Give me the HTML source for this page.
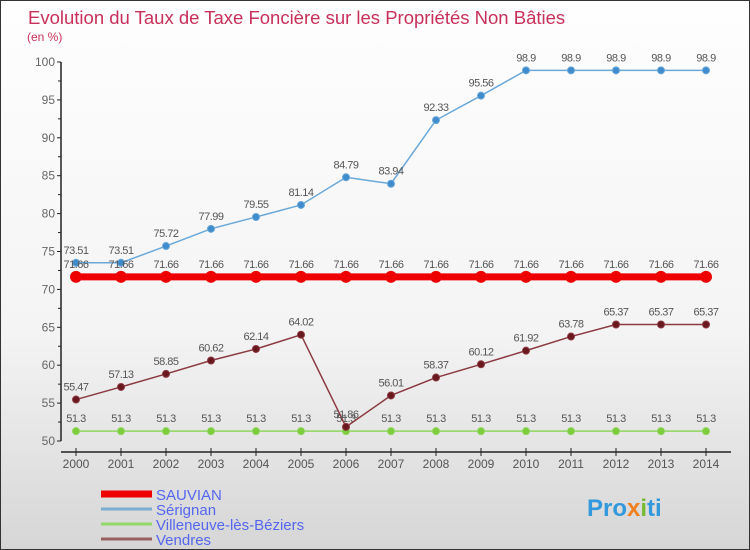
<!DOCTYPE html>
<html><head><meta charset="utf-8"><style>
body{margin:0}
#c{width:750px;height:550px;position:relative;overflow:hidden;box-sizing:border-box;border:1px solid #333;background:linear-gradient(#fefefe,#f4f4f4 60%,#d6d6d6);font-family:"Liberation Sans",sans-serif}
svg{position:absolute;left:0;top:0}
</style></head><body>
<div id="c">
<svg id="s" width="750" height="550">
<text x="27" y="23" font-size="18.5" fill="#c8305a">Evolution du Taux de Taxe Foncière sur les Propriétés Non Bâties</text>
<text x="26" y="40" font-size="12" fill="#c8305a">(en %)</text>
</svg>
</div>
<script>
const years=[2000,2001,2002,2003,2004,2005,2006,2007,2008,2009,2010,2011,2012,2013,2014];
const sauvian=[71.66,71.66,71.66,71.66,71.66,71.66,71.66,71.66,71.66,71.66,71.66,71.66,71.66,71.66,71.66];
const serignan=[73.51,73.51,75.72,77.99,79.55,81.14,84.79,83.94,92.33,95.56,98.9,98.9,98.9,98.9,98.9];
const villeneuve=[51.3,51.3,51.3,51.3,51.3,51.3,51.3,51.3,51.3,51.3,51.3,51.3,51.3,51.3,51.3];
const vendres=[55.47,57.13,58.85,60.62,62.14,64.02,51.86,56.01,58.37,60.12,61.92,63.78,65.37,65.37,65.37];
const yTicks=[50,55,60,65,70,75,80,85,90,95,100];
const NS='http://www.w3.org/2000/svg',s=document.getElementById('s');
const X=i=>75+i*45, Y=v=>440-(v-50)*7.58;
function el(t,a,p){const e=document.createElementNS(NS,t);for(const k in a)e.setAttribute(k,a[k]);(p||s).appendChild(e);return e;}
let e=el('line',{x1:60,y1:61,x2:60,y2:440,stroke:'#222','stroke-width':1.5});

yTicks.forEach(v=>{el('line',{x1:56,x2:60,y1:Y(v),y2:Y(v),stroke:'#222'});
 if(v<100)el('line',{x1:57,x2:60,y1:Y(v+2.5),y2:Y(v+2.5),stroke:'#222'});
 const t=el('text',{x:54,y:Y(v)+4,'font-size':12,fill:'#666','text-anchor':'end'});t.textContent=v;
 });
e=el('line',{x1:60,y1:451,x2:730,y2:451,stroke:'#222','stroke-width':1.5});

years.forEach((y,i)=>{el('line',{x1:X(i),x2:X(i),y1:447,y2:455,stroke:'#222'});
 const t=el('text',{x:X(i),y:467,'font-size':12,fill:'#555','text-anchor':'middle'});t.textContent=y;
 });
function series(d,name,col,dot,w,r){const g=el('g',{});
 
 el('polyline',{points:d.map((v,i)=>X(i)+','+Y(v)).join(' '),fill:'none',stroke:col,'stroke-width':w},g);
 d.forEach((v,i)=>{const c=el('circle',{cx:X(i),cy:Y(v),r:r,fill:dot,stroke:col,'stroke-width':1},g);
  
  const t=el('text',{x:X(i),y:Y(v)-9,'font-size':11,fill:'#555','text-anchor':'middle','letter-spacing':'-0.5'},g);t.textContent=v;
  });}
series(villeneuve,'villeneuve','#8ed65a','#7ccc3c',1.5,3.5);
series(vendres,'vendres','#8a3a40','#6a1820',1.5,3.5);
series(serignan,'serignan','#6aa8d8','#3f8ccc',1.5,3.5);
series(sauvian,'sauvian','#ee0000','#ee0000',7,5.5);
const leg=[['SAUVIAN','#ee0000',7],['Sérignan','#7aaed0',3],['Villeneuve-lès-Béziers','#90d868',3],['Vendres','#9a6060',3]];
leg.forEach((l,i)=>{const y=493+i*15;const g=el('g',{});
 
 el('line',{x1:100,x2:151,y1:y,y2:y,stroke:l[1],'stroke-width':l[2]},g);
 const t=el('text',{x:155,y:y+6,'font-size':15,fill:'#5566ee'},g);t.textContent=l[0];});
const lg=el('text',{x:586,y:515,'font-size':24,'font-weight':'bold',fill:'#3399dd'});

lg.innerHTML='Pro<tspan fill="#f08020">x</tspan><tspan fill="#77bb33">i</tspan>ti';
</script>
</body></html>
